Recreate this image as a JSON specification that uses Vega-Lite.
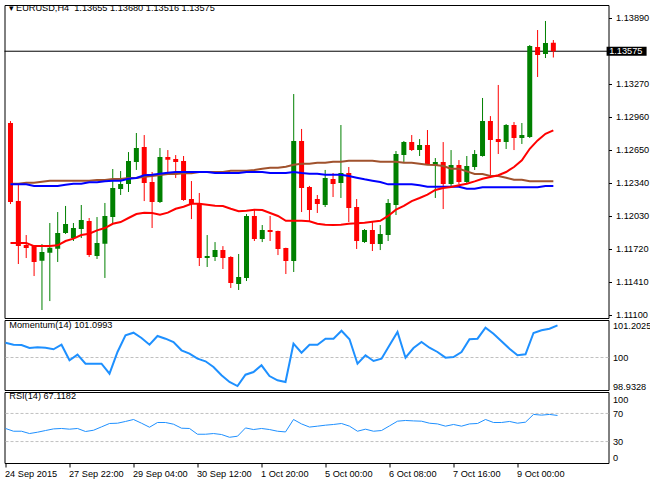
{
"$schema": "https://vega.github.io/schema/vega-lite/v6.json",
"background": "white",
"padding": {"left": 0.5, "top": 3, "right": 0, "bottom": 0},
"autosize": {"type": "pad"},
"spacing": 2,
"bounds": "flush",
"config": {
  "view": {"stroke": "#000000", "strokeWidth": 1},
  "axis": {"labelFont": "Liberation Sans", "labelFontSize": 9.2, "labelColor": "#000000", "tickColor": "#000000", "domain": false, "grid": false},
  "title": {"font": "Liberation Sans", "fontSize": 9.2, "fontWeight": "normal", "color": "#000000", "anchor": "start", "frame": "group", "baseline": "middle"}
},
"datasets": {
  "bars": [
    {"i":0,"o":1.12901,"h":1.12919,"l":1.12140,"c":1.12159,"r":1.11774,"b":1.12325,"s":1.12331,"m":100.553,"rsi":48.6},
    {"i":1,"o":1.12168,"h":1.12319,"l":1.11577,"c":1.11745,"r":1.11774,"b":1.12325,"s":1.12331,"m":100.479,"rsi":44.7},
    {"i":2,"o":1.11755,"h":1.11849,"l":1.11633,"c":1.11727,"r":1.11774,"b":1.12325,"s":1.12340,"m":100.467,"rsi":44.7},
    {"i":3,"o":1.11745,"h":1.11755,"l":1.11464,"c":1.11596,"r":1.11745,"b":1.12309,"s":1.12340,"m":100.355,"rsi":41.4},
    {"i":4,"o":1.11608,"h":1.11764,"l":1.11145,"c":1.11689,"r":1.11745,"b":1.12309,"s":1.12350,"m":100.381,"rsi":43.3},
    {"i":5,"o":1.11682,"h":1.11962,"l":1.11229,"c":1.11730,"r":1.11745,"b":1.12309,"s":1.12359,"m":100.366,"rsi":45.7},
    {"i":6,"o":1.11720,"h":1.12065,"l":1.11596,"c":1.11868,"r":1.11752,"b":1.12309,"s":1.12359,"m":100.307,"rsi":48.0},
    {"i":7,"o":1.11868,"h":1.12122,"l":1.11859,"c":1.11952,"r":1.11793,"b":1.12321,"s":1.12359,"m":100.479,"rsi":48.6},
    {"i":8,"o":1.11821,"h":1.11962,"l":1.11793,"c":1.11915,"r":1.11815,"b":1.12331,"s":1.12359,"m":99.895,"rsi":47.6},
    {"i":9,"o":1.11905,"h":1.12131,"l":1.11821,"c":1.11990,"r":1.11849,"b":1.12331,"s":1.12359,"m":100.105,"rsi":48.6},
    {"i":10,"o":1.11981,"h":1.12009,"l":1.11643,"c":1.11661,"r":1.11861,"b":1.12344,"s":1.12359,"m":99.768,"rsi":44.3},
    {"i":11,"o":1.11652,"h":1.12018,"l":1.11624,"c":1.11774,"r":1.11893,"b":1.12344,"s":1.12366,"m":99.768,"rsi":46.1},
    {"i":12,"o":1.11767,"h":1.12150,"l":1.11446,"c":1.12028,"r":1.11915,"b":1.12353,"s":1.12366,"m":99.768,"rsi":50.9},
    {"i":13,"o":1.12018,"h":1.12469,"l":1.11962,"c":1.12291,"r":1.11955,"b":1.12359,"s":1.12375,"m":99.394,"rsi":55.7},
    {"i":14,"o":1.12281,"h":1.12450,"l":1.12225,"c":1.12328,"r":1.11971,"b":1.12359,"s":1.12375,"m":100.206,"rsi":56.1},
    {"i":15,"o":1.12328,"h":1.12628,"l":1.12253,"c":1.12544,"r":1.12009,"b":1.12378,"s":1.12384,"m":100.830,"rsi":58.6},
    {"i":16,"o":1.12535,"h":1.12807,"l":1.12460,"c":1.12666,"r":1.12046,"b":1.12384,"s":1.12384,"m":100.927,"rsi":61.4},
    {"i":17,"o":1.12675,"h":1.12788,"l":1.12168,"c":1.12337,"r":1.12059,"b":1.12410,"s":1.12397,"m":100.729,"rsi":56.1},
    {"i":18,"o":1.12347,"h":1.12441,"l":1.11915,"c":1.12159,"r":1.12056,"b":1.12415,"s":1.12403,"m":100.479,"rsi":50.4},
    {"i":19,"o":1.12159,"h":1.12666,"l":1.12150,"c":1.12582,"r":1.12040,"b":1.12425,"s":1.12413,"m":100.804,"rsi":57.1},
    {"i":20,"o":1.12582,"h":1.12647,"l":1.12431,"c":1.12556,"r":1.12059,"b":1.12434,"s":1.12422,"m":100.703,"rsi":57.1},
    {"i":21,"o":1.12563,"h":1.12600,"l":1.12384,"c":1.12535,"r":1.12096,"b":1.12441,"s":1.12422,"m":100.580,"rsi":54.7},
    {"i":22,"o":1.12544,"h":1.12591,"l":1.12170,"c":1.12178,"r":1.12115,"b":1.12441,"s":1.12429,"m":100.269,"rsi":49.0},
    {"i":23,"o":1.12187,"h":1.12356,"l":1.11999,"c":1.12140,"r":1.12143,"b":1.12441,"s":1.12429,"m":100.142,"rsi":48.6},
    {"i":24,"o":1.12150,"h":1.12244,"l":1.11558,"c":1.11633,"r":1.12143,"b":1.12441,"s":1.12441,"m":99.955,"rsi":40.4},
    {"i":25,"o":1.11633,"h":1.11849,"l":1.11549,"c":1.11652,"r":1.12134,"b":1.12441,"s":1.12441,"m":99.858,"rsi":40.4},
    {"i":26,"o":1.11643,"h":1.11783,"l":1.11605,"c":1.11708,"r":1.12124,"b":1.12431,"s":1.12441,"m":99.645,"rsi":41.4},
    {"i":27,"o":1.11708,"h":1.11745,"l":1.11530,"c":1.11633,"r":1.12122,"b":1.12431,"s":1.12441,"m":99.334,"rsi":40.0},
    {"i":28,"o":1.11643,"h":1.11650,"l":1.11352,"c":1.11398,"r":1.12096,"b":1.12431,"s":1.12453,"m":99.084,"rsi":36.1},
    {"i":29,"o":1.11389,"h":1.11671,"l":1.11333,"c":1.11455,"r":1.12072,"b":1.12431,"s":1.12453,"m":98.9328,"rsi":37.6},
    {"i":30,"o":1.11446,"h":1.12046,"l":1.11417,"c":1.12028,"r":1.12077,"b":1.12441,"s":1.12453,"m":99.357,"rsi":49.4},
    {"i":31,"o":1.12028,"h":1.12084,"l":1.11793,"c":1.11812,"r":1.12087,"b":1.12441,"s":1.12460,"m":99.458,"rsi":47.1},
    {"i":32,"o":1.11812,"h":1.11943,"l":1.11783,"c":1.11896,"r":1.12084,"b":1.12441,"s":1.12472,"m":99.708,"rsi":48.6},
    {"i":33,"o":1.11896,"h":1.12028,"l":1.11793,"c":1.11877,"r":1.12056,"b":1.12431,"s":1.12481,"m":99.308,"rsi":47.1},
    {"i":34,"o":1.11887,"h":1.11890,"l":1.11661,"c":1.11718,"r":1.12028,"b":1.12431,"s":1.12481,"m":99.147,"rsi":44.7},
    {"i":35,"o":1.11727,"h":1.11730,"l":1.11483,"c":1.11605,"r":1.11983,"b":1.12431,"s":1.12491,"m":99.084,"rsi":43.7},
    {"i":36,"o":1.11605,"h":1.13173,"l":1.11502,"c":1.12732,"r":1.11983,"b":1.12441,"s":1.12509,"m":100.516,"rsi":61.4},
    {"i":37,"o":1.12732,"h":1.12845,"l":1.12065,"c":1.12291,"r":1.11983,"b":1.12431,"s":1.12519,"m":100.180,"rsi":55.1},
    {"i":38,"o":1.12300,"h":1.12310,"l":1.11981,"c":1.12084,"r":1.11978,"b":1.12425,"s":1.12519,"m":100.479,"rsi":50.6},
    {"i":39,"o":1.12187,"h":1.12225,"l":1.12056,"c":1.12140,"r":1.11955,"b":1.12425,"s":1.12528,"m":100.479,"rsi":51.9},
    {"i":40,"o":1.12131,"h":1.12460,"l":1.12112,"c":1.12384,"r":1.11946,"b":1.12415,"s":1.12528,"m":100.703,"rsi":53.3},
    {"i":41,"o":1.12375,"h":1.12431,"l":1.12206,"c":1.12328,"r":1.11943,"b":1.12415,"s":1.12537,"m":100.703,"rsi":54.3},
    {"i":42,"o":1.12337,"h":1.12882,"l":1.12197,"c":1.12431,"r":1.11946,"b":1.12415,"s":1.12537,"m":101.002,"rsi":55.7},
    {"i":43,"o":1.12431,"h":1.12488,"l":1.11971,"c":1.12103,"r":1.11955,"b":1.12403,"s":1.12547,"m":100.681,"rsi":51.9},
    {"i":44,"o":1.12112,"h":1.12187,"l":1.11718,"c":1.11793,"r":1.11959,"b":1.12387,"s":1.12547,"m":99.768,"rsi":44.7},
    {"i":45,"o":1.11783,"h":1.11905,"l":1.11775,"c":1.11896,"r":1.11965,"b":1.12372,"s":1.12547,"m":100.082,"rsi":47.6},
    {"i":46,"o":1.11896,"h":1.11971,"l":1.11699,"c":1.11764,"r":1.11974,"b":1.12359,"s":1.12547,"m":99.869,"rsi":44.7},
    {"i":47,"o":1.11764,"h":1.11943,"l":1.11708,"c":1.11859,"r":1.11983,"b":1.12347,"s":1.12537,"m":99.955,"rsi":45.7},
    {"i":48,"o":1.11849,"h":1.12187,"l":1.11793,"c":1.12150,"r":1.12028,"b":1.12325,"s":1.12537,"m":100.456,"rsi":52.3},
    {"i":49,"o":1.12131,"h":1.12638,"l":1.12037,"c":1.12610,"r":1.12087,"b":1.12325,"s":1.12537,"m":100.954,"rsi":59.0},
    {"i":50,"o":1.12600,"h":1.12732,"l":1.12535,"c":1.12722,"r":1.12122,"b":1.12325,"s":1.12528,"m":99.993,"rsi":60.0},
    {"i":51,"o":1.12722,"h":1.12788,"l":1.12638,"c":1.12647,"r":1.12168,"b":1.12325,"s":1.12528,"m":100.355,"rsi":59.4},
    {"i":52,"o":1.12647,"h":1.12750,"l":1.12591,"c":1.12694,"r":1.12197,"b":1.12316,"s":1.12519,"m":100.580,"rsi":59.0},
    {"i":53,"o":1.12694,"h":1.12835,"l":1.12507,"c":1.12516,"r":1.12228,"b":1.12303,"s":1.12509,"m":100.366,"rsi":56.1},
    {"i":54,"o":1.12507,"h":1.12572,"l":1.12197,"c":1.12535,"r":1.12272,"b":1.12303,"s":1.12506,"m":100.206,"rsi":55.1},
    {"i":55,"o":1.12535,"h":1.12722,"l":1.12093,"c":1.12328,"r":1.12291,"b":1.12303,"s":1.12497,"m":99.993,"rsi":51.9},
    {"i":56,"o":1.12328,"h":1.12647,"l":1.12309,"c":1.12507,"r":1.12300,"b":1.12303,"s":1.12472,"m":100.019,"rsi":54.3},
    {"i":57,"o":1.12507,"h":1.12553,"l":1.12328,"c":1.12347,"r":1.12316,"b":1.12303,"s":1.12472,"m":100.206,"rsi":51.9},
    {"i":58,"o":1.12347,"h":1.12591,"l":1.12328,"c":1.12497,"r":1.12331,"b":1.12284,"s":1.12447,"m":100.681,"rsi":55.1},
    {"i":59,"o":1.12488,"h":1.12647,"l":1.12460,"c":1.12610,"r":1.12353,"b":1.12284,"s":1.12422,"m":100.703,"rsi":55.7},
    {"i":60,"o":1.12591,"h":1.13136,"l":1.12585,"c":1.12919,"r":1.12378,"b":1.12297,"s":1.12422,"m":101.114,"rsi":61.4},
    {"i":61,"o":1.12919,"h":1.12966,"l":1.12384,"c":1.12741,"r":1.12394,"b":1.12297,"s":1.12403,"m":100.890,"rsi":57.1},
    {"i":62,"o":1.12750,"h":1.13258,"l":1.12610,"c":1.12722,"r":1.12410,"b":1.12297,"s":1.12403,"m":100.606,"rsi":57.1},
    {"i":63,"o":1.12722,"h":1.12891,"l":1.12657,"c":1.12882,"r":1.12441,"b":1.12297,"s":1.12387,"m":100.329,"rsi":58.6},
    {"i":64,"o":1.12882,"h":1.12910,"l":1.12647,"c":1.12760,"r":1.12488,"b":1.12297,"s":1.12369,"m":100.082,"rsi":56.1},
    {"i":65,"o":1.12760,"h":1.12901,"l":1.12704,"c":1.12788,"r":1.12551,"b":1.12297,"s":1.12369,"m":100.120,"rsi":57.6},
    {"i":66,"o":1.12769,"h":1.13633,"l":1.12760,"c":1.13624,"r":1.12659,"b":1.12297,"s":1.12354,"m":100.916,"rsi":68.6},
    {"i":67,"o":1.13614,"h":1.13774,"l":1.13333,"c":1.13539,"r":1.12738,"b":1.12297,"s":1.12354,"m":101.017,"rsi":67.6},
    {"i":68,"o":1.13549,"h":1.13859,"l":1.13511,"c":1.13652,"r":1.12800,"b":1.12309,"s":1.12354,"m":101.077,"rsi":68.6},
    {"i":69,"o":1.13655,"h":1.13680,"l":1.13516,"c":1.13575,"r":1.12832,"b":1.12309,"s":1.12354,"m":101.2025,"rsi":67.1182}
  ],
  "momLevel": [{"level": 100}],
  "rsiLevels": [{"level": 30}, {"level": 70}]
},
"vconcat": [
  {
    "width": 604, "height": 313,
    "title": {"text": "▾  EURUSD,H4\u00a0\u00a01.13655 1.13680 1.13516 1.13575", "offset": -8, "dx": 4},
    "data": {"name": "bars"},
    "resolve": {"axis": {"y": "independent"}},
    "layer": [
      {
        "transform": [{"filter": "datum.i == 69"}],
        "mark": {"type": "rule", "color": "#000000", "strokeWidth": 1},
        "encoding": {
          "y": {"field": "c", "type": "quantitative", "title": null,
                "scale": {"domain": [1.1107, 1.14009], "nice": false, "zero": false},
                "axis": {"orient": "right", "values": [1.111, 1.1141, 1.1172, 1.1203, 1.1234, 1.1265, 1.1296, 1.1327, 1.1389], "format": ".5f", "tickSize": 3, "labelPadding": 4, "ticks": true, "labelOverlap": false}}
        }
      },
      {
        "mark": {"type": "rule", "strokeWidth": 1, "clip": true},
        "encoding": {
          "x": {"field": "i", "type": "quantitative", "scale": {"domain": [-0.125, 75.375], "nice": false, "zero": false}, "axis": null},
          "y": {"field": "l", "type": "quantitative", "axis": null},
          "y2": {"field": "h"},
          "color": {"condition": {"test": "datum.c >= datum.o", "value": "#008000"}, "value": "#FF0000"}
        }
      },
      {
        "mark": {"type": "bar", "width": 5, "clip": true},
        "encoding": {
          "x": {"field": "i", "type": "quantitative", "axis": null},
          "y": {"field": "o", "type": "quantitative", "axis": null},
          "y2": {"field": "c"},
          "color": {"condition": {"test": "datum.c >= datum.o", "value": "#008000"}, "value": "#FF0000"}
        }
      },
      {
        "mark": {"type": "line", "color": "#A0522D", "strokeWidth": 2},
        "encoding": {
          "x": {"field": "i", "type": "quantitative", "axis": null},
          "y": {"field": "s", "type": "quantitative", "axis": null}
        }
      },
      {
        "mark": {"type": "line", "color": "#0000FF", "strokeWidth": 2},
        "encoding": {
          "x": {"field": "i", "type": "quantitative", "axis": null},
          "y": {"field": "b", "type": "quantitative", "axis": null}
        }
      },
      {
        "mark": {"type": "line", "color": "#FF0000", "strokeWidth": 2},
        "encoding": {
          "x": {"field": "i", "type": "quantitative", "axis": null},
          "y": {"field": "r", "type": "quantitative", "axis": null}
        }
      },
      {
        "transform": [{"filter": "datum.i == 69"}],
        "mark": {"type": "tick", "orient": "vertical", "thickness": 40, "size": 9, "color": "#000000", "opacity": 1},
        "encoding": {
          "x": {"datum": 78.31, "type": "quantitative"},
          "y": {"field": "c", "type": "quantitative", "axis": null}
        }
      },
      {
        "transform": [{"filter": "datum.i == 69"}],
        "mark": {"type": "text", "align": "left", "baseline": "middle", "color": "#FFFFFF", "font": "Liberation Sans", "fontSize": 9.2},
        "encoding": {
          "x": {"datum": 76.1, "type": "quantitative"},
          "y": {"field": "c", "type": "quantitative", "axis": null},
          "text": {"field": "c", "type": "quantitative", "format": ".5f"}
        }
      }
    ]
  },
  {
    "width": 604, "height": 70,
    "title": {"text": "Momentum(14) 101.0993", "offset": -9.7, "dx": 4.8},
    "resolve": {"axis": {"y": "independent"}},
    "layer": [
      {
        "data": {"name": "momLevel"},
        "mark": {"type": "rule", "color": "#C0C0C0", "strokeWidth": 1, "strokeDash": [3, 2]},
        "encoding": {
          "y": {"field": "level", "type": "quantitative", "title": null,
                "scale": {"domain": [98.785, 101.402], "nice": false, "zero": false},
                "axis": {"orient": "right", "values": [98.9328, 100, 101.2025], "labelExpr": "datum.value == 100 ? '100' : format(datum.value, '.4f')", "ticks": false, "labelPadding": 4, "labelOverlap": false}}
        }
      },
      {
        "data": {"name": "bars"},
        "mark": {"type": "line", "color": "#1E90FF", "strokeWidth": 2},
        "encoding": {
          "x": {"field": "i", "type": "quantitative", "scale": {"domain": [-0.125, 75.375], "nice": false, "zero": false}, "axis": null},
          "y": {"field": "m", "type": "quantitative", "axis": null}
        }
      }
    ]
  },
  {
    "width": 604, "height": 71,
    "title": {"text": "RSI(14) 67.1182", "offset": -9, "dx": 4.8},
    "resolve": {"axis": {"y": "independent"}},
    "layer": [
      {
        "data": {"name": "rsiLevels"},
        "mark": {"type": "rule", "color": "#C0C0C0", "strokeWidth": 1, "strokeDash": [3, 2]},
        "encoding": {
          "y": {"field": "level", "type": "quantitative", "title": null,
                "scale": {"domain": [-0.5, 100.5], "nice": false, "zero": false},
                "axis": {"orient": "right", "values": [7.6, 30, 70, 89.5], "labelExpr": "datum.value > 80 ? '100' : (datum.value < 10 ? '0' : format(datum.value, 'd'))", "ticks": false, "labelPadding": 4, "labelFlush": false, "labelOverlap": false, "labelBaseline": "middle"}}
        }
      },
      {
        "data": {"name": "bars"},
        "mark": {"type": "line", "color": "#1E90FF", "strokeWidth": 1},
        "encoding": {
          "x": {"field": "i", "type": "quantitative", "title": null,
                "scale": {"domain": [-0.125, 75.375], "nice": false, "zero": false},
                "axis": {"values": [0, 8, 16, 24, 32, 40, 48, 56, 64], "labelExpr": "['24 Sep 2015','27 Sep 22:00','29 Sep 04:00','30 Sep 12:00','1 Oct 20:00','5 Oct 00:00','6 Oct 08:00','7 Oct 16:00','9 Oct 00:00'][round(datum.value / 8)]", "labelAlign": "left", "labelBaseline": "top", "tickSize": 4, "labelPadding": 2, "labelFlush": false, "labelOverlap": false, "labelBound": false, "labelOffset": -1}},
          "y": {"field": "rsi", "type": "quantitative", "axis": null}
        }
      }
    ]
  }
]
}
